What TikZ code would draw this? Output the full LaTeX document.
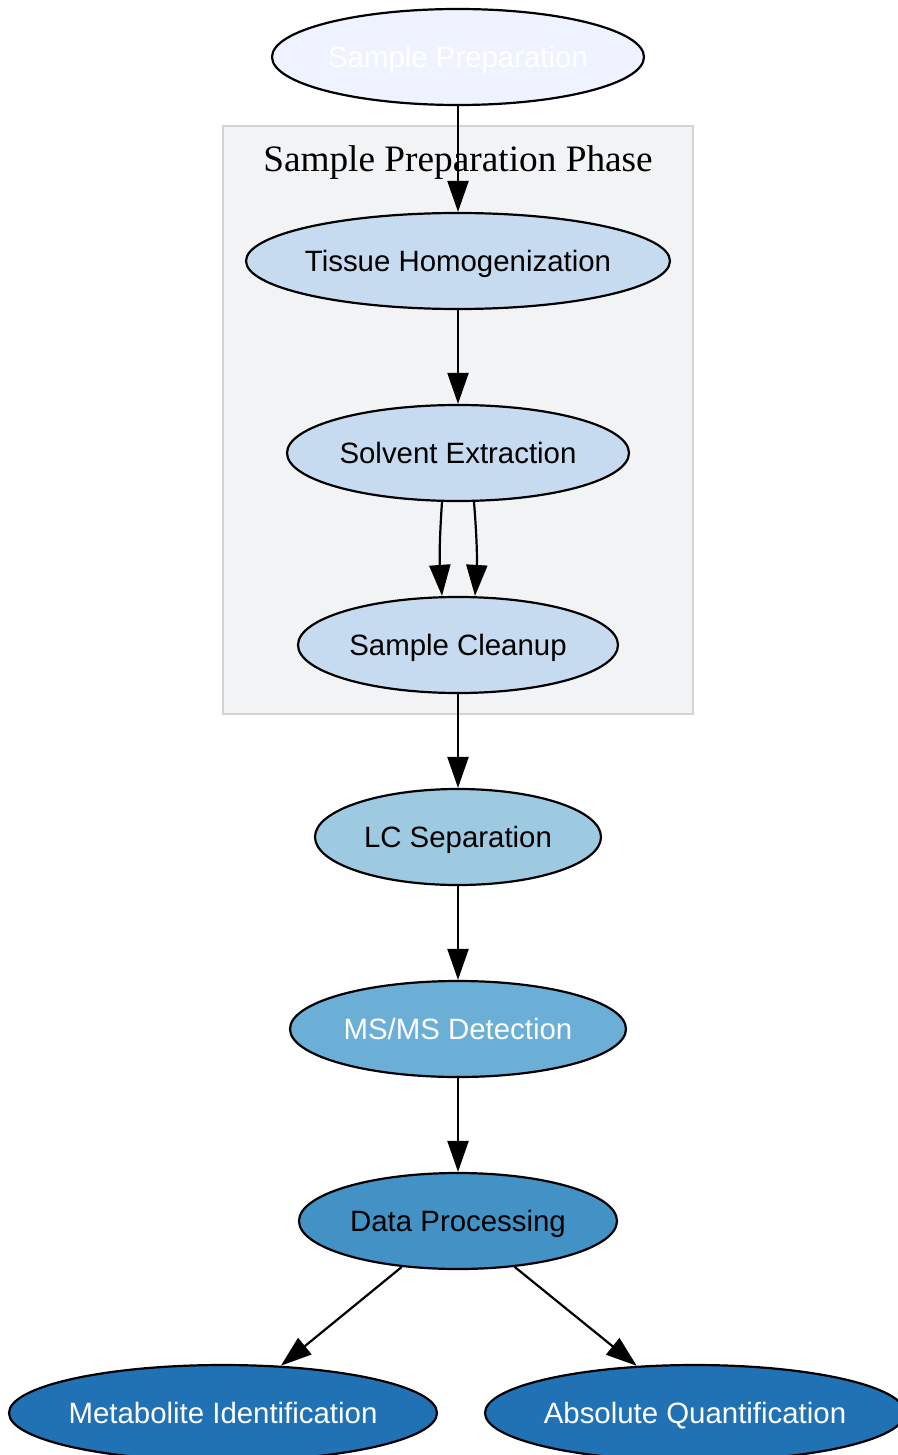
\documentclass[tikz,border=0pt]{standalone}
\usepackage{fontspec}
\setmainfont{Liberation Serif}
\newfontfamily\arialfont{Liberation Sans}
\usetikzlibrary{shapes.geometric,arrows.meta}
\definecolor{bA}{HTML}{EFF3FF}
\definecolor{bB}{HTML}{C6DBEF}
\definecolor{bC}{HTML}{9ECAE1}
\definecolor{bD}{HTML}{6BAED6}
\definecolor{bE}{HTML}{4292C6}
\definecolor{bF}{HTML}{2171B5}
\definecolor{clfill}{HTML}{F2F3F5}
\definecolor{clline}{HTML}{D3D3D3}
\tikzset{
  stage/.style={ellipse, draw=black, line width=2.2pt, inner sep=0pt,
    minimum height=96pt, font=\arialfont\fontsize{29.4}{34}\selectfont,
    text height=21pt, text depth=0pt},
  arr/.style={line width=2.2pt, -{Triangle[length=31pt,width=21pt]}},
  cluster/.style={draw=clline, fill=clfill, line width=2.2pt},
}
\newcommand{\zb}[1]{\makebox[0pt]{#1}}
\begin{document}
\begin{tikzpicture}[x=1pt,y=-1pt]
\useasboundingbox (0,0) rectangle (897,1455);
\draw[cluster] (223,126) rectangle (693,714);
\node[font=\fontsize{37.3}{44}\selectfont, anchor=base] (cl) at (458,172) {Sample Preparation Phase};

\node[stage, fill=bA, text=white, minimum width=372pt] (sp) at (458,57) {\zb{Sample Preparation}};
\node[stage, fill=bB, minimum width=424pt] (th) at (458,261) {\zb{Tissue Homogenization}};
\node[stage, fill=bB, minimum width=342pt] (se) at (458,453) {\zb{Solvent Extraction}};
\node[stage, fill=bB, minimum width=320pt] (sc) at (458,645) {\zb{Sample Cleanup}};
\node[stage, fill=bC, minimum width=286pt] (lc) at (458,837) {\zb{LC Separation}};
\node[stage, fill=bD, text=white, minimum width=336pt] (ms) at (458,1029) {\zb{MS/MS Detection}};
\node[stage, fill=bE, minimum width=318pt] (dp) at (458,1221) {\zb{Data Processing}};
\node[stage, fill=bF, text=white, minimum width=428pt] (mi) at (223,1413) {\zb{Metabolite Identification}};
\node[stage, fill=bF, text=white, minimum width=420pt] (aq) at (695,1413) {\zb{Absolute Quantification}};

\draw[arr] (sp) -- (th);
\draw[arr] (th) -- (se);
\draw[arr] ([xshift=-16pt]se.south) to[bend right=4] ([xshift=-16pt]sc.north);
\draw[arr] ([xshift=16pt]se.south) to[bend left=4] ([xshift=17pt]sc.north);
\draw[arr] (sc) -- (lc);
\draw[arr] (lc) -- (ms);
\draw[arr] (ms) -- (dp);
\draw[arr] (dp) -- (mi);
\draw[arr] (dp) -- (aq);
\end{tikzpicture}
\end{document}
